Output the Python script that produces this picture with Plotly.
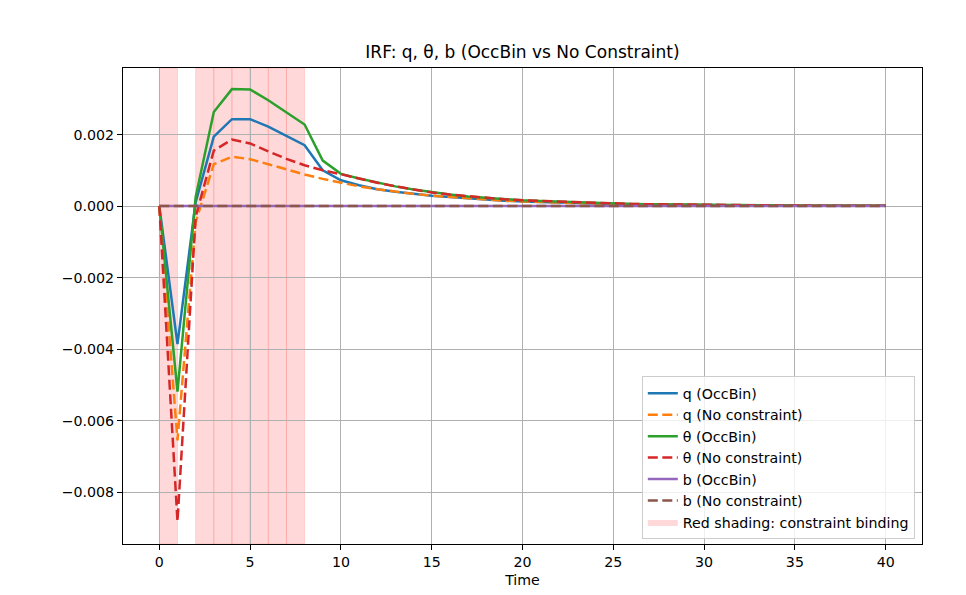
import plotly.graph_objects as go

# ---------------- data ----------------
t = list(range(41))

q_occbin = [0, -0.00386, 0.00010, 0.00194, 0.00243, 0.00243, 0.00222, 0.00196, 0.00170, 0.00100,
            0.00072, 0.00058, 0.00047, 0.00040, 0.00034, 0.00029, 0.00025, 0.00021, 0.00018, 0.00015,
            0.00013, 0.00011, 0.00009, 0.00008, 0.00007, 0.00006, 0.00005, 0.00004, 0.000035, 0.00003,
            0.000025, 0.00002, 0.000018, 0.000015, 0.000013, 0.000011, 0.000009, 0.000008, 0.000007, 0.000006,
            0.000005]
q_nocon = [0, -0.00655, -0.00045, 0.00117, 0.00138, 0.00131, 0.00117, 0.00102, 0.00088, 0.00076,
           0.00065, 0.00055, 0.00047, 0.00040, 0.00034, 0.00029, 0.00025, 0.00021, 0.00018, 0.00015,
           0.00013, 0.00011, 0.00009, 0.00008, 0.00007, 0.00006, 0.00005, 0.00004, 0.000035, 0.00003,
           0.000025, 0.00002, 0.000018, 0.000015, 0.000013, 0.000011, 0.000009, 0.000008, 0.000007, 0.000006,
           0.000005]
theta_occbin = [0, -0.00519, 0.00025, 0.00263, 0.00327, 0.00326, 0.00296, 0.00262, 0.00228, 0.00127,
                0.00090, 0.00077, 0.00065, 0.00055, 0.00046, 0.00038, 0.00032, 0.00027, 0.00023, 0.00019,
                0.00016, 0.00014, 0.00012, 0.00010, 0.000085, 0.00007, 0.00006, 0.00005, 0.000043, 0.000036,
                0.00003, 0.000025, 0.000021, 0.000018, 0.000015, 0.000013, 0.000011, 0.000009, 0.000008, 0.000007,
                0.000006]
theta_nocon = [0, -0.00882, -0.00030, 0.00155, 0.00186, 0.00175, 0.00153, 0.00132, 0.00114, 0.00100,
               0.00089, 0.00076, 0.00065, 0.00055, 0.00046, 0.00038, 0.00032, 0.00027, 0.00023, 0.00019,
               0.00016, 0.00014, 0.00012, 0.00010, 0.000085, 0.00007, 0.00006, 0.00005, 0.000043, 0.000036,
               0.00003, 0.000025, 0.000021, 0.000018, 0.000015, 0.000013, 0.000011, 0.000009, 0.000008, 0.000007,
               0.000006]
b_occbin = [0.0] * 41
b_nocon = [0.0] * 41

binding_periods = [0, 2, 3, 4, 5, 6, 7]

x_ticks = [0, 5, 10, 15, 20, 25, 30, 35, 40]
y_ticks = [-0.008, -0.006, -0.004, -0.002, 0.000, 0.002]

# ---------------- figure ----------------
FONT = "DejaVu Sans"
SHADE = "rgba(255,0,0,0.15)"
FS = 14.2

fig = go.Figure()

series = [
    ("q (OccBin)", q_occbin, "#1f77b4", "solid"),
    ("q (No constraint)", q_nocon, "#ff7f0e", "10px,4.5px"),
    ("θ (OccBin)", theta_occbin, "#2ca02c", "solid"),
    ("θ (No constraint)", theta_nocon, "#d62728", "10px,4.5px"),
    ("b (OccBin)", b_occbin, "#9467bd", "solid"),
    ("b (No constraint)", b_nocon, "#8c564b", "10px,4.5px"),
]
for name, ys, color, dash in series:
    fig.add_trace(go.Scatter(x=t, y=ys, mode="lines", name=name,
                             line=dict(color=color, width=2.5, dash=dash)))

# legend entry for shading
fig.add_trace(go.Scatter(x=[None], y=[None], mode="lines", fill="toself",
                         fillcolor=SHADE, line=dict(width=0, color=SHADE),
                         name="Red shading: constraint binding"))

for p in binding_periods:
    fig.add_vrect(x0=p, x1=p + 1, fillcolor=SHADE, layer="below",
                  line=dict(width=1, color="rgba(255,0,0,0.12)"))

axis_common = dict(
    showline=True, linecolor="black", linewidth=1, mirror=True,
    ticks="outside", ticklen=5, tickwidth=1, tickcolor="black",
    showgrid=True, gridcolor="#b0b0b0", gridwidth=1,
    zeroline=False,
    tickfont=dict(family=FONT, size=FS, color="black"),
)

fig.update_xaxes(range=[-2, 42], tickvals=x_ticks, ticktext=[str(v) for v in x_ticks],
                 title=dict(text="Time", font=dict(family=FONT, size=FS, color="black"), standoff=6),
                 **axis_common)
fig.update_yaxes(range=[-0.00945, 0.00386], tickvals=y_ticks, tickformat=".3f",
                 **axis_common)

fig.update_layout(
    width=966, height=595,
    margin=dict(l=123, r=44, t=68, b=51, autoexpand=False),
    paper_bgcolor="white", plot_bgcolor="white",
    font=dict(family=FONT, color="black"),
    title=dict(text="IRF: q, θ, b (OccBin vs No Constraint)", x=522.5 / 966, xanchor="center",
               xref="container", yref="container", y=1 - 52 / 595, yanchor="middle",
               font=dict(family=FONT, size=17, color="black")),
    legend=dict(x=0.991, y=0.0095, xanchor="right", yanchor="bottom",
                bgcolor="rgba(255,255,255,0.8)", bordercolor="#cccccc", borderwidth=1,
                font=dict(family=FONT, size=FS, color="black"),
                traceorder="normal", itemwidth=30),
    showlegend=True,
)

fig.write_html("out.html", config={"displayModeBar": False},
               post_script="document.body.style.margin='0';document.body.style.overflow='hidden';")
